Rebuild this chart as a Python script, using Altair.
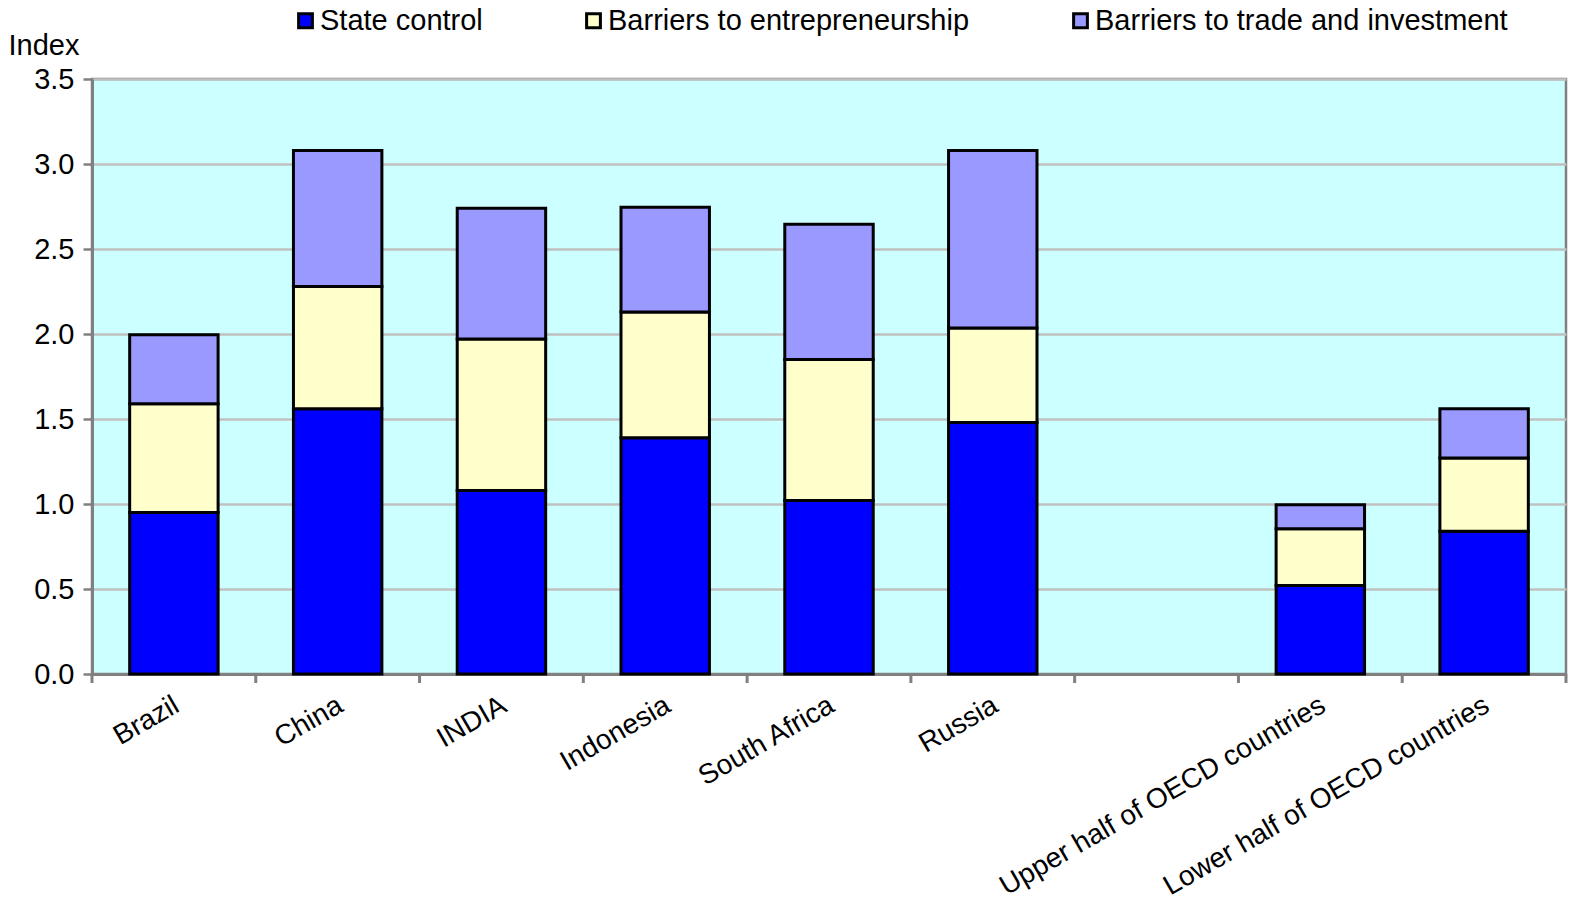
import altair as alt
import pandas as pd

categories = ["Brazil", "China", "INDIA", "Indonesia", "South Africa", "Russia", " ",
              "Upper half of OECD countries", "Lower half of OECD countries"]
series = ["State control", "Barriers to entrepreneurship", "Barriers to trade and investment"]
state_control = [0.95, 1.56, 1.08, 1.39, 1.02, 1.48, None, 0.52, 0.84]
entrepreneurship = [0.64, 0.72, 0.89, 0.74, 0.83, 0.555, None, 0.335, 0.43]
trade_investment = [0.405, 0.80, 0.77, 0.615, 0.795, 1.045, None, 0.14, 0.29]
colors = ["#0000FF", "#FFFFCC", "#9999FF"]
y_ticks = [0.0, 0.5, 1.0, 1.5, 2.0, 2.5, 3.0, 3.5]

rows = []
for s_idx, (name, vals) in enumerate(zip(series, [state_control, entrepreneurship, trade_investment])):
    for cat, v in zip(categories, vals):
        if v is not None:
            rows.append({"category": cat, "series": name, "value": v, "order": s_idx})
df = pd.DataFrame(rows)

FONT = "Liberation Sans"
FS = 29
W, H = 1474, 595

xscale = alt.Scale(domain=categories, paddingInner=0, paddingOuter=0)

bars = alt.Chart(df).mark_bar(
    stroke="black", strokeWidth=3, strokeJoin="miter", width=alt.RelativeBandSize(0.54)
).encode(
    x=alt.X("category:N", scale=xscale, sort=categories,
            axis=alt.Axis(title=None, labelAngle=330, labelFontSize=28, labelFont=FONT,
                          labelColor="black", labelPadding=17, labelLimit=1000, labelOffset=-4,
                          ticks=False, domainColor="#808080", domainWidth=3, grid=False)),
    y=alt.Y("value:Q", stack="zero",
            scale=alt.Scale(domain=[0, 3.5], nice=False, zero=True),
            axis=alt.Axis(values=y_ticks, format=".1f", title="Index", titleAngle=0,
                          titleAlign="left", titleBaseline="middle", titleX=-84, titleY=-34,
                          titleFont=FONT, titleFontSize=FS, titleFontWeight="normal",
                          titleColor="black",
                          labelFontSize=FS, labelFont=FONT, labelColor="black", labelPadding=9,
                          tickColor="#808080", tickSize=9, tickWidth=2.5,
                          domainColor="#808080", domainWidth=3,
                          gridColor="#C0C0C0", gridWidth=2.5)),
    color=alt.Color("series:N", scale=alt.Scale(domain=series, range=colors),
                    legend=alt.Legend(title=None, orient="none", direction="horizontal",
                                      legendX=199, legendY=-73, columnPadding=96,
                                      symbolType="square", symbolSize=190,
                                      symbolStrokeColor="black", symbolStrokeWidth=3,
                                      labelFont=FONT, labelFontSize=FS, labelColor="black",
                                      labelLimit=1000, labelOffset=0, symbolOpacity=1)),
    order=alt.Order("order:Q"),
)

tick_df = pd.DataFrame({"category": categories})
ticks = alt.Chart(tick_df).mark_rule(color="#808080", strokeWidth=3).encode(
    x=alt.X("category:N", bandPosition=0, scale=xscale),
    y=alt.value(H),
    y2=alt.value(H + 9),
)
end_tick = alt.Chart(pd.DataFrame({"e": [0]})).mark_rule(color="#808080", strokeWidth=3).encode(
    x=alt.value(W), y=alt.value(H), y2=alt.value(H + 9)
)

chart = alt.layer(bars, ticks, end_tick).properties(
    width=W, height=H,
    autosize=alt.AutoSizeParams(type="none"),
    padding={"left": 92, "top": 79, "right": 9, "bottom": 235},
    background="white",
).configure_view(fill="#CCFFFF", stroke="#808080", strokeWidth=2.5)

chart.save("out.html", embed_options={"renderer": "svg", "actions": False})
